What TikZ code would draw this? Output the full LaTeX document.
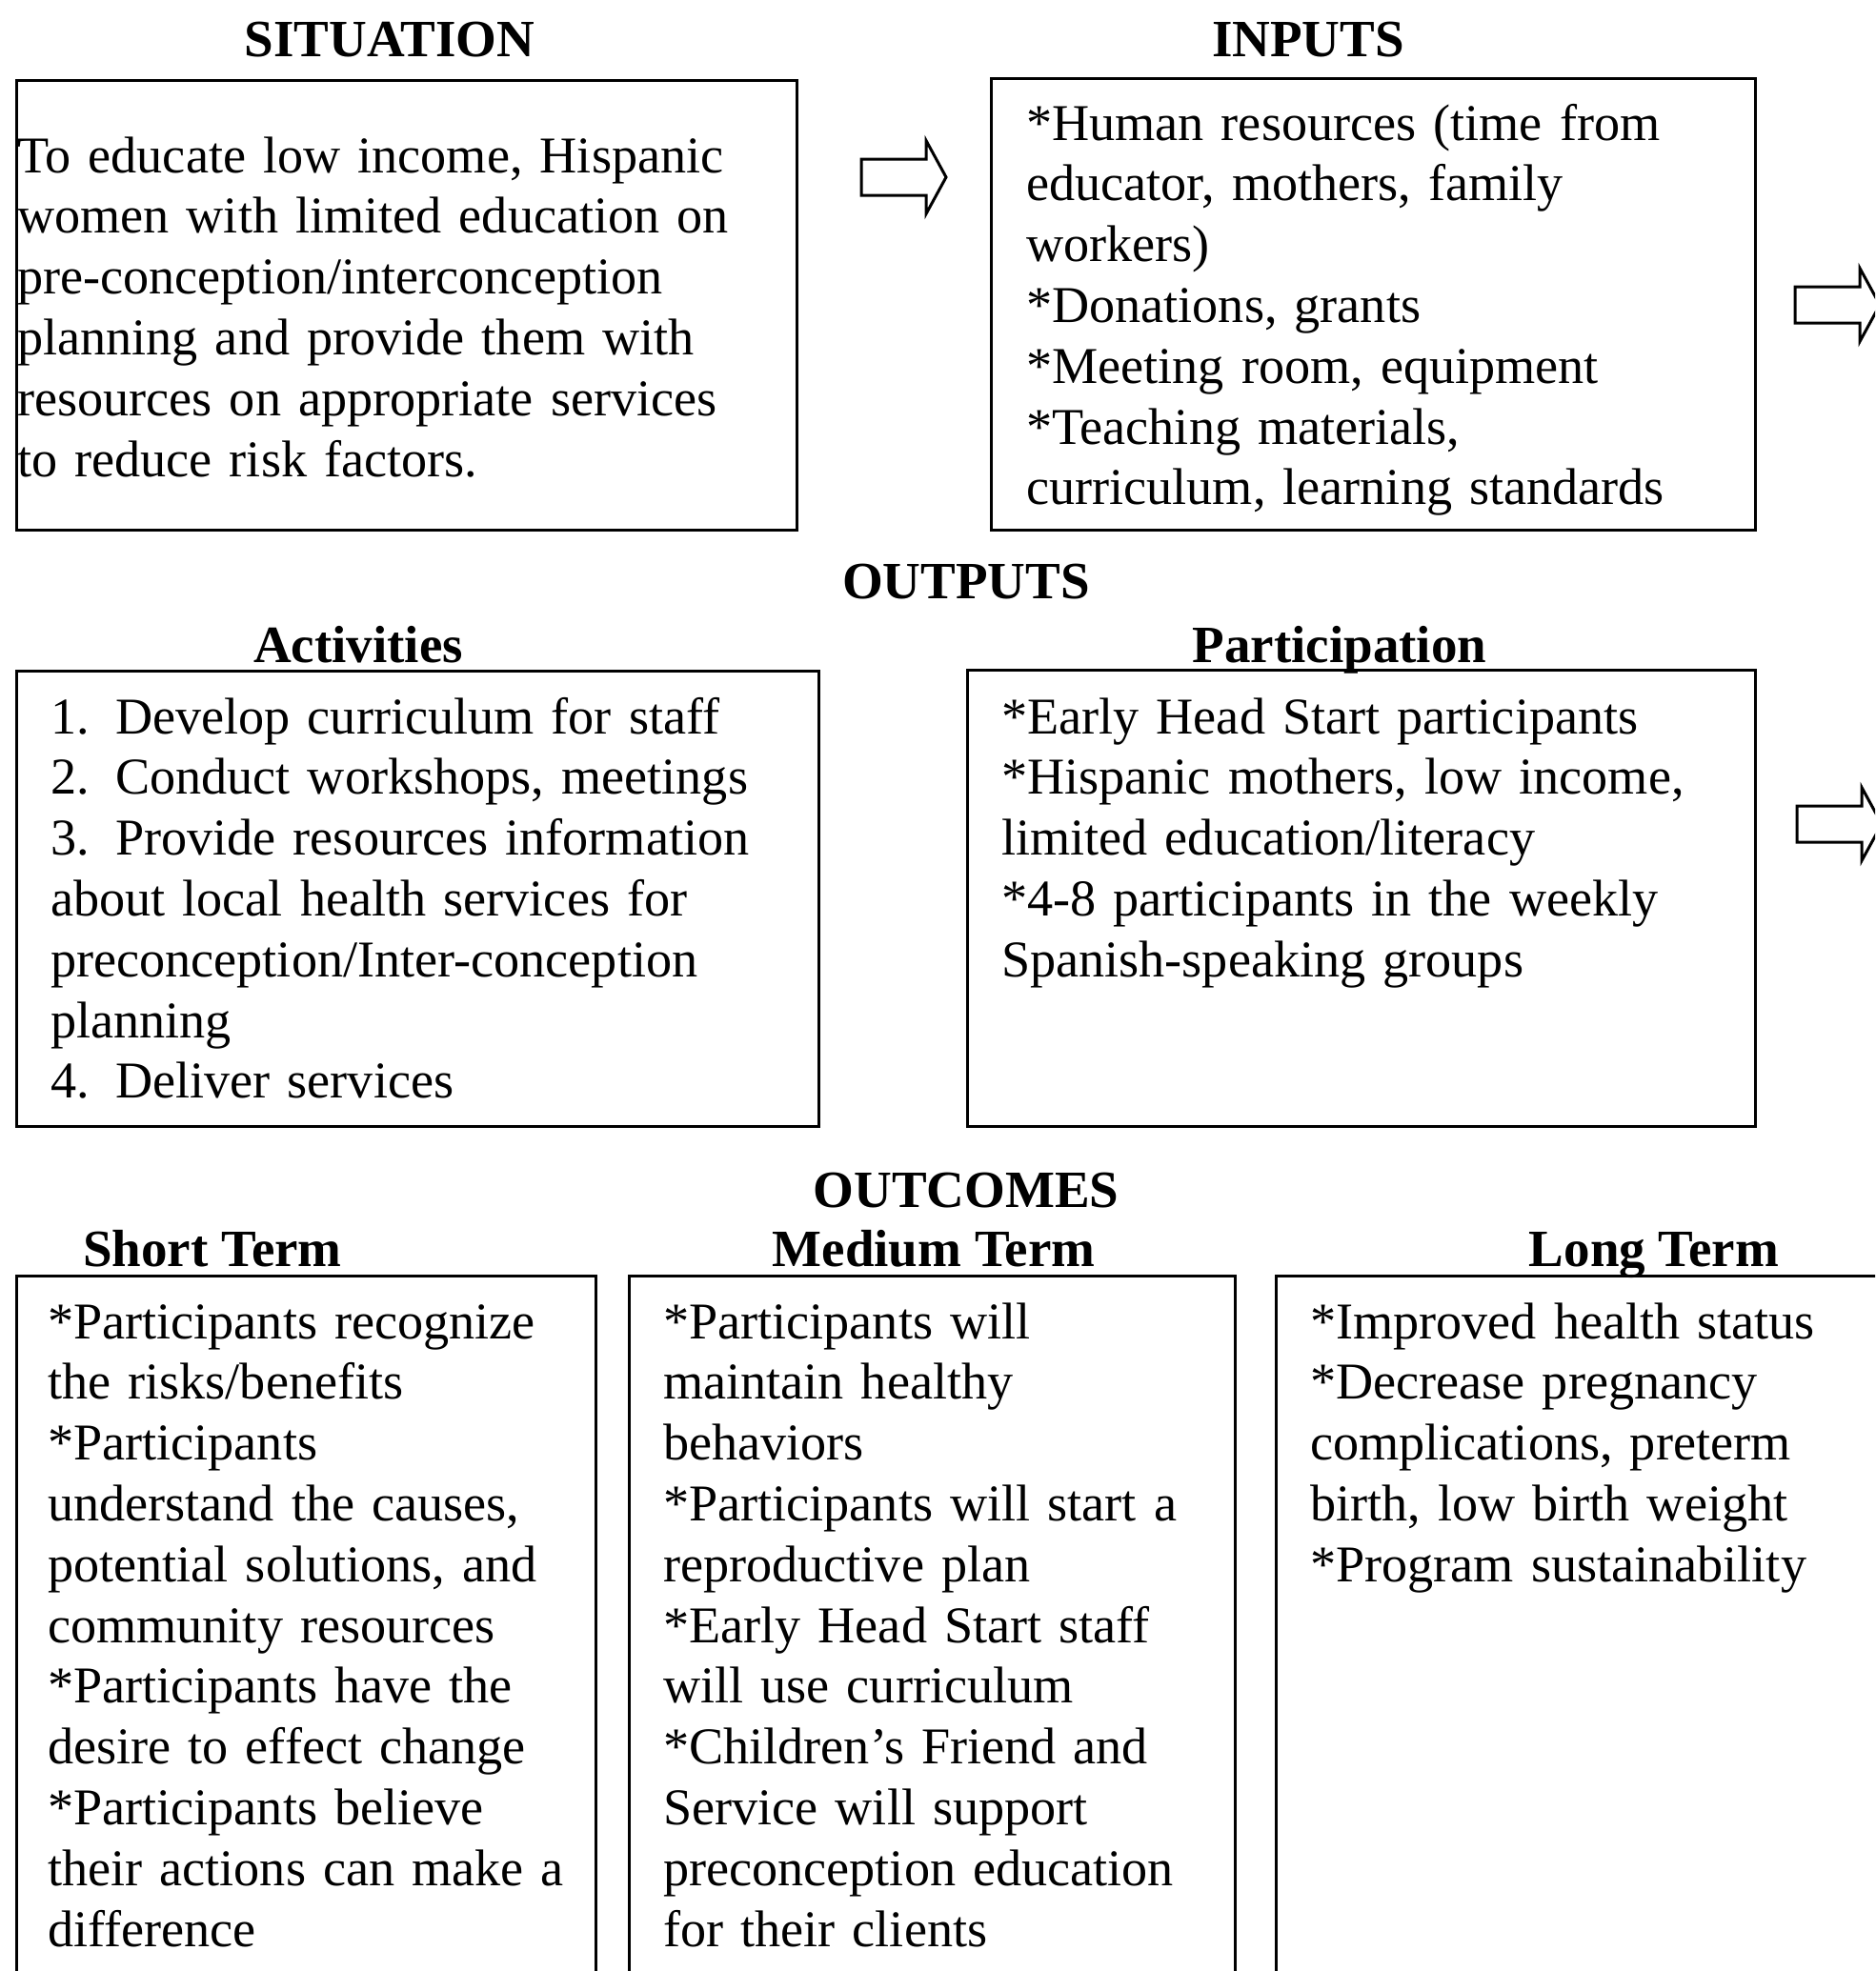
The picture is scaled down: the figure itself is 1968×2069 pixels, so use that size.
\documentclass[tikz,border=0pt]{standalone}
\usepackage{fontspec}
\setmainfont{Liberation Serif}
\usetikzlibrary{positioning}

\begin{document}
\begin{tikzpicture}[
  x=1pt, y=-1pt,
  every node/.style={font=\fontsize{54.2}{63.8}\selectfont},
  box/.style={draw, line width=3pt, rectangle, inner sep=0pt, anchor=north west},
  body/.style={anchor=base west, inner sep=0pt, align=left, text width=900pt},
  heading/.style={anchor=base, inner sep=0pt, font=\fontsize{55}{63.8}\selectfont\bfseries},
  fatarrow/.pic={\draw[line width=3pt, line join=miter]
    (0,-19) -- (68,-19) -- (68,-38.5) -- (89,0) -- (68,38.5) -- (68,19) -- (0,19) -- cycle;}
]
\useasboundingbox (0,0) rectangle (1968,2069);
\clip (0,0) rectangle (1968,2069);

% top row
\node[heading] (sithead) at (409,59) {SITUATION};
\node[heading] (inphead) at (1373,59) {INPUTS};
\node[box, minimum width=819pt, minimum height=472pt] (sit) at (16,83) {};
\node[box, minimum width=802pt, minimum height=474pt] (inp) at (1039,81) {};
\node[body] (sittext) at (18,181) {To educate low income, Hispanic\\
  women with limited education on\\
  pre-conception/interconception\\
  planning and provide them with\\
  resources on appropriate services\\
  to reduce risk factors.};
\node[body] (inptext) at (1077,147) {{*}Human resources (time from\\
  educator, mothers, family\\
  workers)\\
  {*}Donations, grants\\
  {*}Meeting room, equipment\\
  {*}Teaching materials,\\
  curriculum, learning standards};
\pic at (904,186) {fatarrow};
\pic at (1884,320) {fatarrow};

% outputs
\node[heading] (outhead) at (1014,628) {OUTPUTS};
\node[heading] (acthead) at (376,695) {Activities};
\node[heading] (parthead) at (1406,695) {Participation};
\node[box, minimum width=842pt, minimum height=478pt] (act) at (16,703) {};
\node[box, minimum width=827pt, minimum height=479pt] (part) at (1014,702) {};
\node[body] (acttext) at (53,770) {\makebox[68pt][l]{1.}Develop curriculum for staff\\
  \makebox[68pt][l]{2.}Conduct workshops, meetings\\
  \makebox[68pt][l]{3.}Provide resources information\\
  about local health services for\\
  preconception/Inter-conception\\
  planning\\
  \makebox[68pt][l]{4.}Deliver services};
\node[body] (parttext) at (1051,770) {{*}Early Head Start participants\\
  {*}Hispanic mothers, low income,\\
  limited education/literacy\\
  {*}4-8 participants in the weekly\\
  Spanish-speaking groups};
\pic at (1886,865) {fatarrow};

% outcomes
\node[heading] (outchead) at (1014,1267) {OUTCOMES};
\node[heading] (shorthead) at (223,1329) {Short Term};
\node[heading] (medhead) at (980,1329) {Medium Term};
\node[heading] (longhead) at (1736,1329) {Long Term};
\node[box, minimum width=608pt, minimum height=780pt] (short) at (16,1338) {};
\node[box, minimum width=636pt, minimum height=780pt] (medium) at (659,1338) {};
\node[box, minimum width=700pt, minimum height=780pt] (long) at (1338,1338) {};
\node[body] (shorttext) at (50,1405) {{*}Participants recognize\\
  the risks/benefits\\
  {*}Participants\\
  understand the causes,\\
  potential solutions, and\\
  community resources\\
  {*}Participants have the\\
  desire to effect change\\
  {*}Participants believe\\
  their actions can make a\\
  difference};
\node[body] (medtext) at (696,1405) {{*}Participants will\\
  maintain healthy\\
  behaviors\\
  {*}Participants will start a\\
  reproductive plan\\
  {*}Early Head Start staff\\
  will use curriculum\\
  {*}Children's Friend and\\
  Service will support\\
  preconception education\\
  for their clients};
\node[body] (longtext) at (1375,1405) {{*}Improved health status\\
  {*}Decrease pregnancy\\
  complications, preterm\\
  birth, low birth weight\\
  {*}Program sustainability};
\end{tikzpicture}
\end{document}
